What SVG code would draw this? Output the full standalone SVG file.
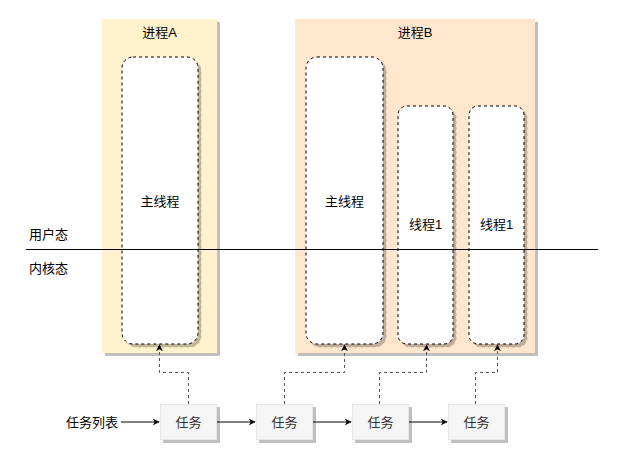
<svg xmlns="http://www.w3.org/2000/svg" width="624" height="459" viewBox="0 0 624 459">
<defs>
<marker id="ah" viewBox="0 0 10 10" refX="9" refY="5" markerWidth="7" markerHeight="7" orient="auto" markerUnits="userSpaceOnUse">
<path d="M0,0 L10,5 L0,10 L3,5 Z" fill="#000"/>
</marker>
<filter id="sh" x="-10%" y="-10%" width="130%" height="130%">
<feOffset dx="3" dy="3" in="SourceAlpha" result="o"/>
<feColorMatrix in="o" type="matrix" values="0 0 0 0 0  0 0 0 0 0  0 0 0 0 0  0 0 0 0.25 0" result="c"/>
<feMerge><feMergeNode in="c"/><feMergeNode in="SourceGraphic"/></feMerge>
</filter>
</defs>
<style>
text{font-family:"Liberation Sans","Noto Sans CJK SC",sans-serif;font-size:13px;fill:#000;text-anchor:middle}
.thread{fill:#fff;stroke:#000;stroke-dasharray:3 3;stroke-width:1}
.task{fill:#f5f5f5;stroke:#e6e6e6;stroke-width:1}
.task-t{fill:#333}
.side{text-anchor:start}
.conn{fill:none;stroke:#000;stroke-width:1}
.dash{fill:none;stroke:#555;stroke-width:1;stroke-dasharray:3 3}
</style>
<rect width="624" height="459" fill="#fff"/>
<g id="processA">
<rect x="102" y="19" width="115" height="334" fill="#fff2cc" filter="url(#sh)"/>
<text x="159.5" y="37">进程A</text>
</g>
<g id="processB">
<rect x="295" y="19" width="240" height="334" fill="#ffe6cc" filter="url(#sh)"/>
<text x="415" y="37">进程B</text>
</g>
<g id="mainA">
<rect class="thread" x="122" y="57" width="76" height="287" rx="11" filter="url(#sh)"/>
<text x="160" y="206">主线程</text>
</g>
<g id="mainB">
<rect class="thread" x="306" y="57" width="77" height="287" rx="11" filter="url(#sh)"/>
<text x="344.5" y="206">主线程</text>
</g>
<g id="thread1a">
<rect class="thread" x="398" y="106" width="55" height="238" rx="9" filter="url(#sh)"/>
<text x="425.5" y="229">线程1</text>
</g>
<g id="thread1b">
<rect class="thread" x="469" y="106" width="55" height="238" rx="9" filter="url(#sh)"/>
<text x="496.5" y="229">线程1</text>
</g>
<g id="divider">
<line x1="26" y1="249.5" x2="598" y2="249.5" stroke="#000" stroke-width="1"/>
<text class="side" x="29" y="238.5">用户态</text>
<text class="side" x="29" y="272.5">内核态</text>
</g>
<g id="taskList">
<text x="92" y="426.5">任务列表</text>
</g>
<g id="task1">
<rect class="task" x="160.5" y="404.5" width="56" height="35" filter="url(#sh)"/>
<text class="task-t" x="188.5" y="426.5">任务</text>
</g>
<g id="task2">
<rect class="task" x="256.5" y="404.5" width="56" height="35" filter="url(#sh)"/>
<text class="task-t" x="284.5" y="426.5">任务</text>
</g>
<g id="task3">
<rect class="task" x="352.5" y="404.5" width="56" height="35" filter="url(#sh)"/>
<text class="task-t" x="380.5" y="426.5">任务</text>
</g>
<g id="task4">
<rect class="task" x="448.5" y="404.5" width="56" height="35" filter="url(#sh)"/>
<text class="task-t" x="476.5" y="426.5">任务</text>
</g>
<g id="connectors">
<line class="conn" x1="121" y1="422" x2="159" y2="422" marker-end="url(#ah)"/>
<line class="conn" x1="217" y1="422" x2="255" y2="422" marker-end="url(#ah)"/>
<line class="conn" x1="313" y1="422" x2="351" y2="422" marker-end="url(#ah)"/>
<line class="conn" x1="409" y1="422" x2="447" y2="422" marker-end="url(#ah)"/>
<path class="dash" d="M188.5,404 V372.5 H159.5 V345" marker-end="url(#ah)"/>
<path class="dash" d="M284.5,404 V372.5 H344.5 V345" marker-end="url(#ah)"/>
<path class="dash" d="M379.5,404 V372.5 H426.5 V345" marker-end="url(#ah)"/>
<path class="dash" d="M475.5,404 V372.5 H497.5 V345" marker-end="url(#ah)"/>
</g>
</svg>
